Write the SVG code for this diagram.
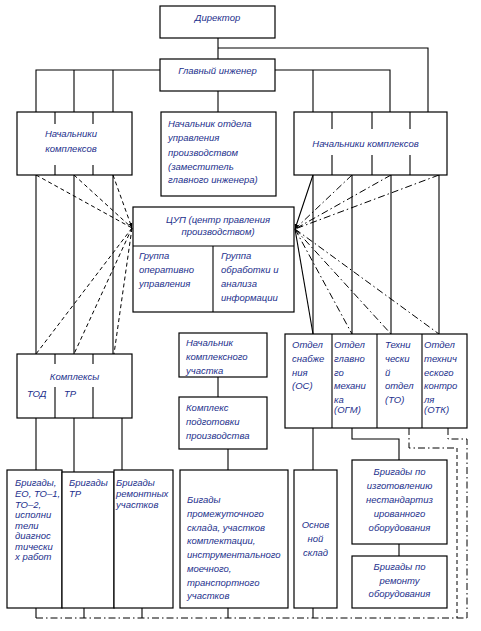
<svg xmlns="http://www.w3.org/2000/svg" width="481" height="631" viewBox="0 0 481 631">
<defs>
<style>
.b{fill:#fff;stroke:#000;stroke-width:1.2}
.l{fill:none;stroke:#000;stroke-width:1.1}
.d{fill:none;stroke:#000;stroke-width:1;stroke-dasharray:4,3}
.dd{fill:none;stroke:#000;stroke-width:1;stroke-dasharray:7,3,1.5,3}
.t{font-family:"Liberation Sans",Arial,sans-serif;font-style:italic;font-size:9.5px;fill:#232f8c}
.c{text-anchor:middle}
</style>
<marker id="ah" viewBox="0 0 10 10" refX="10" refY="5" markerWidth="5" markerHeight="5" orient="auto" markerUnits="userSpaceOnUse">
<path d="M0,1 L10,5 L0,9 Z" fill="#000"/>
</marker>
</defs>
<rect width="481" height="631" fill="#fff"/>
<g id="connectors">
<path class="l" d="M218,38 V59 M218,48 H428 V112"/>
<path class="l" d="M160,70 H36 V112 M74,70 V112 M113,70 V112"/>
<path class="l" d="M275,70 H390 V112 M313,70 V112"/>
<path class="l" d="M218,91 V112"/>
<path class="l" d="M36,175 V354 M74,175 V354 M113,175 V354"/>
<path class="l" d="M313,175 V334 M352,175 V334 M391,175 V334 M439,175 V334"/>
<path class="d" d="M36,175 L132,228 M74,175 L132,228 M113,175 L132,228" marker-end="url(#ah)"/>
<path class="d" d="M132,228 L36,354 M132,228 L74,354 M132,228 L114,354"/>
<path class="l" d="M313,175 L295,229" marker-end="url(#ah)"/>
<path class="dd" d="M352,175 L295,229 M391,175 L295,229 M439,175 L295,229"/>
<path class="l" d="M295,229 L313,334"/>
<path class="dd" d="M295,229 L352,334 M295,229 L391,334 M295,229 L439,334"/>
<path class="l" d="M36,418 V470 M74,418 V472 M122,418 V470"/>
<path class="l" d="M218,377 V397 M228,449 V470"/>
<path class="l" d="M313,428 V470"/>
<path class="l" d="M352,428 V439 H399 V460 M399,544 V556"/>
<path class="dd" d="M409,428 V448 H457"/>
<path class="d" d="M457,448 V618"/>
<path class="dd" d="M448,428 V439 H467 V618"/>
<path class="l" d="M36,608 V618 M84,608 V618 M142,608 V618 M228,608 V618 M313,608 V618"/>
<path class="dd" d="M36,618 H467"/>
</g>
<g id="director">
<rect class="b" x="160" y="6" width="115" height="32"/>
<text class="t c" x="217.5" y="21">Директор</text>
</g>
<g id="chief-engineer">
<rect class="b" x="160" y="59" width="115" height="32"/>
<text class="t c" x="217.5" y="74">Главный инженер</text>
</g>
<g id="heads-left">
<rect class="b" x="17" y="112" width="115" height="63"/>
<path class="l" d="M55,112 V124 M93,112 V124 M55,165 V175 M93,165 V175"/>
<text class="t c" x="71" y="137">Начальники</text>
<text class="t c" x="71" y="152">комплексов</text>
</g>
<g id="head-dept">
<rect class="b" x="161" y="112" width="115" height="84"/>
<text class="t" x="168" y="127">Начальник отдела</text>
<text class="t" x="168" y="141">управления</text>
<text class="t" x="168" y="156">производством</text>
<text class="t" x="168" y="170">(заместитель</text>
<text class="t" x="168" y="183">главного инженера)</text>
</g>
<g id="heads-right">
<rect class="b" x="294" y="112" width="153" height="63"/>
<path class="l" d="M332,112 V129 M372,112 V129 M410,112 V129 M332,155 V175 M372,155 V175 M410,155 V175"/>
<text class="t c" x="365.5" y="147">Начальники комплексов</text>
</g>
<g id="cup">
<rect class="b" x="133" y="207" width="161" height="105"/>
<path class="l" d="M133,246 H294 M213,246 V312"/>
<text class="t c" x="218" y="223">ЦУП (центр правления</text>
<text class="t c" x="218" y="235">производством)</text>
<text class="t" x="139" y="259">Группа</text>
<text class="t" x="139" y="273">оперативно</text>
<text class="t" x="139" y="287">управления</text>
<text class="t" x="221" y="259">Группа</text>
<text class="t" x="221" y="273">обработки и</text>
<text class="t" x="221" y="287">анализа</text>
<text class="t" x="221" y="301">информации</text>
</g>
<g id="complexes">
<rect class="b" x="17" y="354" width="115" height="64"/>
<path class="l" d="M55,354 V364 M93,354 V364 M55,387 V418 M93,387 V418"/>
<text class="t c" x="74.5" y="380">Комплексы</text>
<text class="t" x="27" y="397">ТОД</text>
<text class="t" x="64" y="397">ТР</text>
</g>
<g id="head-section">
<rect class="b" x="179" y="333" width="88" height="44"/>
<text class="t" x="186" y="346">Начальник</text>
<text class="t" x="186" y="360">комплексного</text>
<text class="t" x="186" y="374">участка</text>
</g>
<g id="prep-complex">
<rect class="b" x="179" y="397" width="88" height="52"/>
<text class="t" x="186" y="411">Комплекс</text>
<text class="t" x="186" y="425">подготовки</text>
<text class="t" x="186" y="439">производства</text>
</g>
<g id="departments">
<rect class="b" x="285" y="334" width="182" height="94"/>
<path class="l" d="M332,334 V428 M377,334 V428 M422,334 V428"/>
<text class="t" x="292" y="348">Отдел</text>
<text class="t" x="292" y="362">снабже</text>
<text class="t" x="292" y="376">ния</text>
<text class="t" x="292" y="389">(ОС)</text>
<text class="t" x="334" y="348">Отдел</text>
<text class="t" x="334" y="362">главно</text>
<text class="t" x="334" y="376">го</text>
<text class="t" x="334" y="389">механи</text>
<text class="t" x="334" y="403">ка</text>
<text class="t" x="334" y="413">(ОГМ)</text>
<text class="t" x="385" y="348">Техни</text>
<text class="t" x="385" y="362">чески</text>
<text class="t" x="385" y="376">й</text>
<text class="t" x="385" y="389">отдел</text>
<text class="t" x="385" y="403">(ТО)</text>
<text class="t" x="424" y="348">Отдел</text>
<text class="t" x="424" y="362">технич</text>
<text class="t" x="424" y="376">еского</text>
<text class="t" x="424" y="389">контро</text>
<text class="t" x="424" y="403">ля</text>
<text class="t" x="424" y="413">(ОТК)</text>
</g>
<g id="brig-eo">
<rect class="b" x="7" y="470" width="55" height="138"/>
<text class="t" x="15" y="486">Бригады,</text>
<text class="t" x="15" y="497">ЕО, ТО–1,</text>
<text class="t" x="15" y="508">ТО–2,</text>
<text class="t" x="15" y="518">исполни</text>
<text class="t" x="15" y="529">тели</text>
<text class="t" x="15" y="539">диагнос</text>
<text class="t" x="15" y="550">тически</text>
<text class="t" x="15" y="560">х работ</text>
</g>
<g id="brig-tr">
<rect class="b" x="62" y="472" width="52" height="136"/>
<text class="t" x="69" y="486">Бригады</text>
<text class="t" x="69" y="497">ТР</text>
</g>
<g id="brig-rem">
<rect class="b" x="114" y="470" width="59" height="138"/>
<text class="t" x="116" y="486">Бригады</text>
<text class="t" x="116" y="497">ремонтных</text>
<text class="t" x="116" y="508">участков</text>
</g>
<g id="brig-mid">
<rect class="b" x="180" y="470" width="108" height="138"/>
<text class="t" x="187" y="503">Бигады</text>
<text class="t" x="187" y="517">промежуточного</text>
<text class="t" x="187" y="531">склада, участков</text>
<text class="t" x="187" y="544">комплектации,</text>
<text class="t" x="187" y="558">инструментального</text>
<text class="t" x="187" y="572">моечного,</text>
<text class="t" x="187" y="586">транспортного</text>
<text class="t" x="187" y="599">участков</text>
</g>
<g id="main-store">
<rect class="b" x="294" y="470" width="43" height="138"/>
<text class="t c" x="315.5" y="528">Основ</text>
<text class="t c" x="315.5" y="542">ной</text>
<text class="t c" x="315.5" y="556">склад</text>
</g>
<g id="brig-nonstd">
<rect class="b" x="352" y="460" width="95" height="84"/>
<text class="t c" x="399.5" y="475">Бригады по</text>
<text class="t c" x="399.5" y="489">изготовлению</text>
<text class="t c" x="399.5" y="503">нестандартиз</text>
<text class="t c" x="399.5" y="517">ированного</text>
<text class="t c" x="399.5" y="531">оборудования</text>
</g>
<g id="brig-repair">
<rect class="b" x="352" y="556" width="95" height="52"/>
<text class="t c" x="399.5" y="570">Бригады по</text>
<text class="t c" x="399.5" y="584">ремонту</text>
<text class="t c" x="399.5" y="597">оборудования</text>
</g>
</svg>
